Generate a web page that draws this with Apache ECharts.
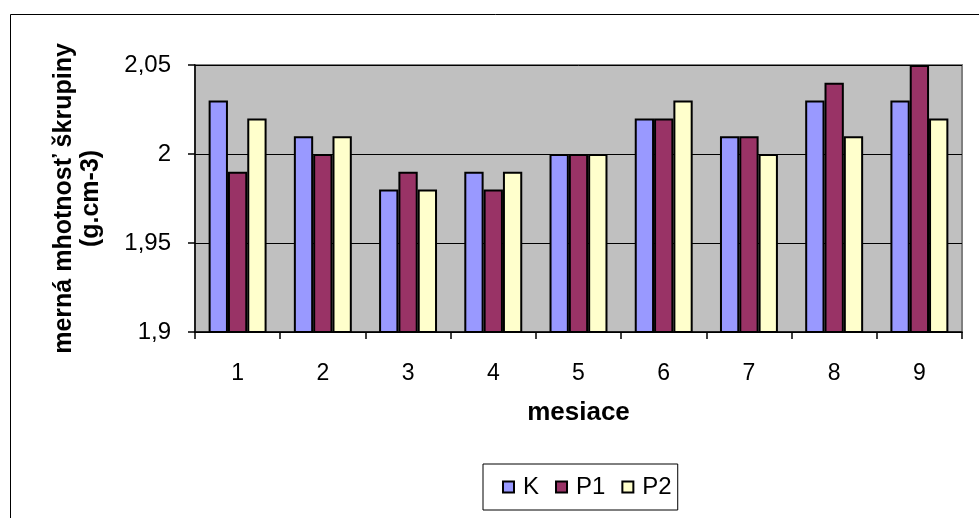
<!DOCTYPE html>
<html>
<head>
<meta charset="utf-8">
<script src="https://cdn.jsdelivr.net/npm/echarts@6/dist/echarts.min.js"></script>
<style>
  html, body { margin: 0; padding: 0; background: #fff; }
  #chart { width: 979px; height: 518px; }
</style>
</head>
<body>
<div id="chart"></div>
<script>
// mesiace
const months = ['1', '2', '3', '4', '5', '6', '7', '8', '9']
// hodnoty
const valuesK = [2.03, 2.01, 1.98, 1.99, 2.0, 2.02, 2.01, 2.03, 2.03]
const valuesP1 = [1.99, 2.0, 1.99, 1.98, 2.0, 2.02, 2.01, 2.04, 2.05]
const valuesP2 = [2.02, 2.01, 1.98, 1.99, 2.0, 2.03, 2.0, 2.01, 2.02]
const seriesNames = ['K', 'P1', 'P2']

const font = 'Liberation Sans, Arial, sans-serif'
const barBorder = { borderColor: '#000', borderWidth: 2 }

let myChart = echarts.init(document.getElementById('chart'), null, { renderer: 'canvas' })

let option = {
  backgroundColor: '#fff',
  animation: false,
  graphic: [
    {
      type: 'rect',
      shape: { x: 10.5, y: 14.5, width: 990, height: 520 },
      style: { fill: 'none', stroke: '#000', lineWidth: 1 },
      silent: true
    }
  ],
  grid: {
    left: 195,
    right: 17,
    top: 65,
    bottom: 186,
    show: true,
    backgroundColor: '#c0c0c0',
    borderColor: '#808080',
    borderWidth: 2
  },
  legend: {
    data: seriesNames,
    left: 483,
    top: 464,
    padding: [11, 6, 11, 19],
    itemWidth: 11,
    itemHeight: 11,
    itemGap: 16,
    icon: 'rect',
    itemStyle: { borderColor: '#000', borderWidth: 2 },
    borderColor: '#000',
    borderWidth: 1,
    textStyle: { fontFamily: font, fontSize: 24, color: '#000', padding: [0, 0, 0, 4] }
  },
  xAxis: {
    type: 'category',
    data: months,
    name: 'mesiace',
    nameLocation: 'middle',
    nameGap: 68,
    nameTextStyle: { fontFamily: font, fontSize: 26, fontWeight: 'bold', color: '#000' },
    axisLine: { lineStyle: { color: '#000', width: 1.5 } },
    axisTick: { show: true, length: 7, lineStyle: { color: '#000', width: 1.5 } },
    axisLabel: { fontFamily: font, fontSize: 23, color: '#000', margin: 30 }
  },
  yAxis: {
    type: 'value',
    min: 1.9,
    max: 2.05,
    interval: 0.05,
    name: 'merná mhotnosť škrupiny\n(g.cm-3)',
    nameLocation: 'middle',
    nameRotate: 90,
    nameGap: 90,
    nameTextStyle: { fontFamily: font, fontSize: 25, fontWeight: 'bold', color: '#000', lineHeight: 27 },
    axisLine: { show: true, lineStyle: { color: '#000', width: 1.5 } },
    axisTick: { show: true, length: 7, inside: false, lineStyle: { color: '#000', width: 1.5 } },
    axisLabel: {
      fontFamily: font,
      fontSize: 24,
      color: '#000',
      margin: 24,
      formatter: v => String(Math.round(v * 100) / 100).replace('.', ',')
    },
    splitLine: { show: true, lineStyle: { color: '#000', width: 1 } }
  },
  series: [
    {
      name: 'K',
      type: 'bar',
      data: valuesK,
      barGap: '0%',
      barCategoryGap: '32%',
      itemStyle: Object.assign({ color: '#9999ff' }, barBorder)
    },
    {
      name: 'P1',
      type: 'bar',
      data: valuesP1,
      itemStyle: Object.assign({ color: '#993366' }, barBorder)
    },
    {
      name: 'P2',
      type: 'bar',
      data: valuesP2,
      itemStyle: Object.assign({ color: '#ffffcc' }, barBorder)
    }
  ]
}

myChart.setOption(option)
</script>
</body>
</html>
